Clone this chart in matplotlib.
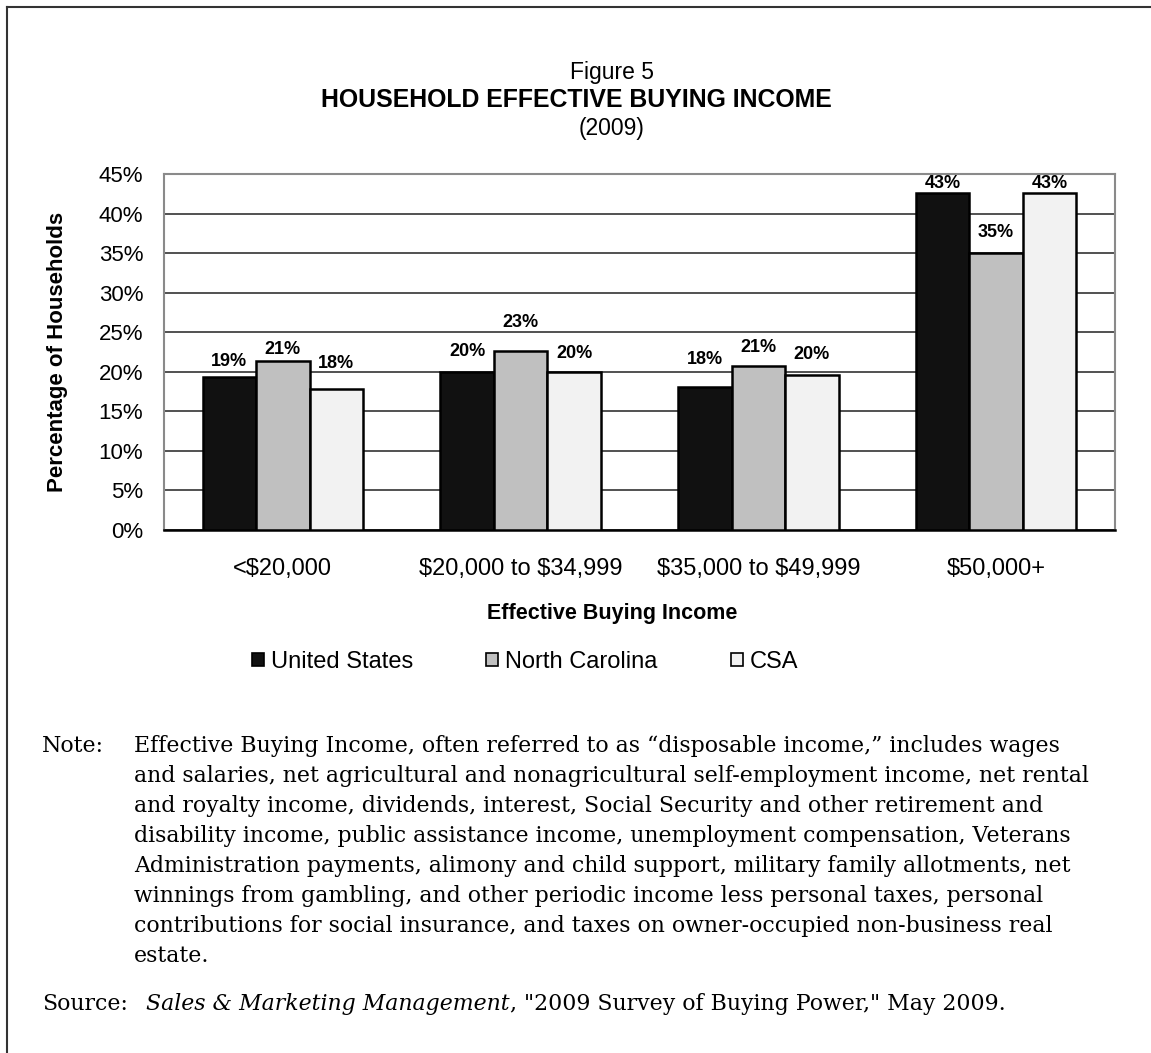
import numpy as np
import matplotlib
matplotlib.use("Agg")
import matplotlib.pyplot as plt
from matplotlib.patches import Patch
from matplotlib.lines import Line2D

# data
categories = ["<$20,000", "$20,000 to $34,999", "$35,000 to $49,999", "$50,000+"]
series_names = ["United States", "North Carolina", "CSA"]
us_vals = [19.3, 20.0, 18.1, 42.6]
nc_vals = [21.4, 22.6, 20.7, 35.0]
csa_vals = [17.8, 20.0, 19.6, 42.6]
y_ticks = [0, 5, 10, 15, 20, 25, 30, 35, 40, 45]

# label offsets above bar tops (points), as Excel scattered them
label_dy = [
    [11.5, 8.0, 18.5],
    [14.5, 21.0, 13.0],
    [20.0, 13.5, 14.5],
    [6.5, 15.0, 6.5],
]

colors = ["#111111", "#c0c0c0", "#f2f2f2"]

note_lines = [
    "Effective Buying Income, often referred to as \u201cdisposable income,\u201d includes wages",
    "and salaries, net agricultural and nonagricultural self-employment income, net rental",
    "and royalty income, dividends, interest, Social Security and other retirement and",
    "disability income, public assistance income, unemployment compensation, Veterans",
    "Administration payments, alimony and child support, military family allotments, net",
    "winnings from gambling, and other periodic income less personal taxes, personal",
    "contributions for social insurance, and taxes on owner-occupied non-business real",
    "estate.",
]

plt.rcParams['font.family'] = ['Liberation Sans', 'DejaVu Sans']

W, H = 1151, 1053
fig = plt.figure(figsize=(W / 100, H / 100), dpi=100)

def fx(px):
    return px / W

def fy(py):
    return 1 - py / H

ax_l, ax_r, ax_t, ax_b = 164, 1115, 174, 530
ax = fig.add_axes([fx(ax_l), fy(ax_b), fx(ax_r) - fx(ax_l), fy(ax_t) - fy(ax_b)])

x = np.arange(len(categories))
bw = 0.225
all_vals = [us_vals, nc_vals, csa_vals]
for i, vals in enumerate(all_vals):
    bars = ax.bar(x + (i - 1) * bw, vals, bw, color=colors[i], edgecolor="black",
                  linewidth=1.8, zorder=3, label=series_names[i])
    for j, b in enumerate(bars):
        ax.annotate(f"{round(vals[j]):.0f}%",
                    (b.get_x() + b.get_width() / 2, b.get_height()),
                    xytext=(0, label_dy[j][i]), textcoords="offset points",
                    ha="center", va="center", fontsize=13, fontweight="bold", zorder=4)

ax.set_xlim(-0.5, len(categories) - 0.5)
ax.set_ylim(0, 45)
ax.set_yticks(y_ticks)
ax.set_yticklabels([f"{t}%" for t in y_ticks], fontsize=16)
ax.set_xticks(x)
ax.set_xticklabels([c.replace("$", r"\$") for c in categories], fontsize=17)
ax.tick_params(axis="y", length=0, pad=15)
ax.tick_params(axis="x", length=0, pad=20)
ax.yaxis.grid(True, color="#222222", linewidth=1.1, zorder=0)
ax.set_axisbelow(True)
for side in ["left", "top", "right"]:
    ax.spines[side].set_color("#8a8a8a")
    ax.spines[side].set_linewidth(1.5)
ax.spines["bottom"].set_color("black")
ax.spines["bottom"].set_linewidth(1.8)

ax.set_ylabel("Percentage of Households", fontsize=16, fontweight="bold")
ax.yaxis.set_label_coords((68 - ax_l) / (ax_r - ax_l), 0.5)

fig.text(fx(612), fy(613), "Effective Buying Income", ha="center", va="center",
         fontsize=15.5, fontweight="bold")

# titles
fig.text(fx(612), fy(73), "Figure 5", ha="center", va="center", fontsize=16.5)
fig.text(fx(576), fy(100), "HOUSEHOLD EFFECTIVE BUYING INCOME", ha="center", va="center",
         fontsize=17.9, fontweight="bold")
fig.text(fx(612), fy(128), "(2009)", ha="center", va="center", fontsize=16.5)

# legend
handles = [Patch(facecolor=c, edgecolor="black", linewidth=1.2) for c in colors]
fig.legend(handles, series_names, loc="center", bbox_to_anchor=(fx(525), fy(662)),
           ncol=3, frameon=False, fontsize=17, handlelength=0.5, handleheight=0.5,
           handletextpad=0.3, columnspacing=3.1)

# note & source, serif body sized so the widest line spans like the reference
serif = ["DejaVu Serif"]
probe = fig.text(0, 0, note_lines[1], fontsize=10, family=serif)
fig.canvas.draw()
nfs = 10 * 962 / probe.get_window_extent().width
probe.remove()

line_gap = 30
fig.text(fx(42), fy(746), "Note:", ha="left", va="center", fontsize=nfs, family=serif)
for k, ln in enumerate(note_lines):
    fig.text(fx(134), fy(746 + line_gap * k), ln, ha="left", va="center", fontsize=nfs,
             family=serif)

src_y = fy(1004)
fig.text(fx(42), src_y, "Source:", ha="left", va="center", fontsize=nfs, family=serif)
t_it = fig.text(fx(146), src_y, "Sales & Marketing Management", ha="left", va="center",
                fontsize=nfs, family=serif, style="italic")
fig.canvas.draw()
bb = t_it.get_window_extent()
fig.text(bb.x1 / W, src_y, ', "2009 Survey of Buying Power," May 2009.', ha="left",
         va="center", fontsize=nfs, family=serif)

# page frame (left and top edges)
fig.add_artist(Line2D([fx(7.5), fx(7.5)], [fy(7), 0], color="#333333", linewidth=1.5))
fig.add_artist(Line2D([fx(7), 1], [fy(7), fy(7)], color="#333333", linewidth=1.5))

fig.savefig("out.png", dpi=100)
